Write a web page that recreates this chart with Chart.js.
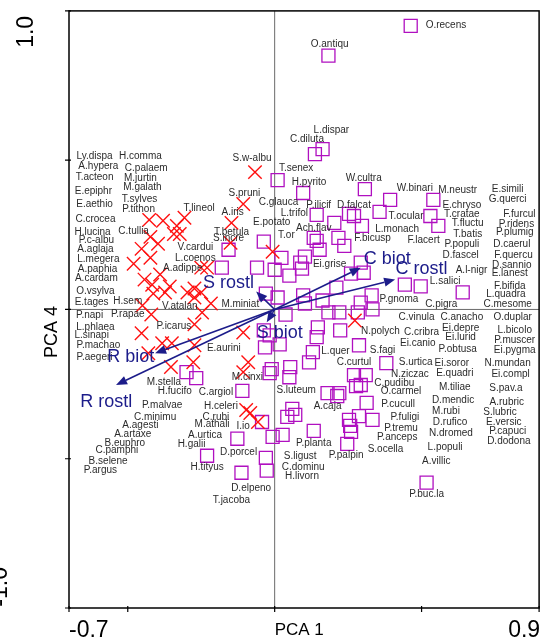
<!DOCTYPE html>
<html>
<head>
<meta charset="utf-8">
<script src="https://cdn.jsdelivr.net/npm/chart.js@4/dist/chart.umd.min.js"></script>
<style>
  html, body { margin: 0; padding: 0; background: #fff; }
  #grafica { display: block; }
</style>
</head>
<body>
<canvas id="grafica" width="550" height="644"></canvas>
<script>
// Ejes
const ejeX = [-0.7, -0.5, 0, 0.5, 0.9];
const ejeY = [-1, -0.5, 0, 0.5, 1];
const etiquetasX = ['-0.7', '0.9'];
const etiquetasY = ['1.0', '-1.0'];

// Especies (solo texto)
const especies = ['Ly.dispa','H.comma','A.hypera','C.palaem','T.acteon','M.jurtin','E.epiphr','M.galath','E.aethio','T.sylves',
  'P.tithon','T.lineol','C.crocea','H.lucina','C.tullia','P.c-albu','A.aglaja','L.megera','A.paphia','A.cardam',
  'O.vsylva','E.tages','H.sem','P.napi','P.rapae','V.atalan','A.adippe','L.coenos','V.cardui','S.w-albu',
  'O.antiqu','L.dispar','C.diluta','O.recens','T.senex','H.pyrito','S.pruni','C.glauca','A.iris','P.ilicif',
  'D.falcat','L.trifol','E.potato','Ach.flav','T.betula','S.incre','T.or','F.bicusp','Ei.grise','M.miniat',
  'W.cultra','W.binari','M.neustr','E.simili','G.querci','E.chryso','T.cratae','F.furcul','T.ocular','T.fluctu',
  'P.ridens','L.monach','T.batis','P.plumig','F.lacert','P.populi','D.caerul','D.fascel','F.quercu','D.sannio',
  'A.l-nigr','E.lanest','L.salici','F.bifida','L.quadra','P.gnoma','C.pigra','C.mesome','C.vinula','C.anacho',
  'O.duplar','N.polych','C.cribra','Ei.depre','L.bicolo','Ei.lurid','P.muscer','Ei.canio','S.fagi','P.obtusa',
  'Ei.pygma','C.curtul','S.urtica','Ei.soror','N.mundan','N.ziczac','E.quadri','Ei.compl','C.pudibu','O.carmel',
  'M.tiliae','S.pav.a','D.mendic','A.rubric','P.cucull','M.rubi','S.lubric','P.fuligi','D.rufico','E.versic',
  'P.tremu','P.capuci','N.dromed','P.anceps','D.dodona','S.ocella','L.populi','A.villic','P.buc.la','E.aurini',
  'L.quer','M.cinxi','S.luteum','C.argiol','A.caja','H.celeri','C.rubi','M.athali','I.io','A.urtica',
  'P.planta','H.galii','D.porcel','P.palpin','S.ligust','H.tityus','C.dominu','H.livorn','D.elpeno','T.jacoba',
  'L.phlaea','P.icarus','L.sinapi','P.machao','P.aegeri','M.stella','H.fucifo','P.malvae','C.minimu','A.agesti',
  'A.artaxe','B.euphro','C.pamphi','B.selene','P.argus'];
const especieX = [-0.613,-0.457,-0.600,-0.437,-0.613,-0.457,-0.617,-0.450,-0.613,-0.460,
  -0.463,-0.257,-0.610,-0.620,-0.480,-0.607,-0.610,-0.600,-0.603,-0.607,
  -0.610,-0.623,-0.500,-0.630,-0.500,-0.323,-0.313,-0.270,-0.270,-0.077,
  0.187,0.193,0.110,0.583,0.073,0.117,-0.103,0.013,-0.143,0.150,
  0.270,0.067,-0.010,0.133,-0.147,-0.157,0.040,0.333,0.187,-0.117,
  0.303,0.477,0.623,0.793,0.793,0.637,0.637,0.833,0.447,0.657,
  0.823,0.417,0.657,0.817,0.507,0.637,0.807,0.633,0.813,0.807,
  0.670,0.800,0.580,0.800,0.787,0.423,0.567,0.793,0.483,0.637,
  0.810,0.360,0.500,0.633,0.817,0.633,0.817,0.487,0.367,0.623,
  0.817,0.270,0.480,0.603,0.793,0.460,0.613,0.803,0.407,0.430,
  0.613,0.787,0.607,0.790,0.420,0.583,0.767,0.443,0.597,0.780,
  0.430,0.793,0.600,0.417,0.797,0.377,0.580,0.550,0.517,-0.173,
  0.207,-0.093,0.073,-0.200,0.180,-0.183,-0.200,-0.213,-0.107,-0.237,
  0.133,-0.283,-0.123,0.243,0.087,-0.230,0.097,0.093,-0.080,-0.147,
  -0.610,-0.343,-0.623,-0.600,-0.613,-0.377,-0.340,-0.383,-0.407,-0.457,
  -0.483,-0.510,-0.537,-0.567,-0.593];
const especieY = [0.513,0.513,0.480,0.473,0.443,0.440,0.397,0.410,0.353,0.370,
  0.337,0.340,0.303,0.260,0.263,0.233,0.203,0.167,0.133,0.103,
  0.060,0.023,0.027,-0.020,-0.017,0.010,0.137,0.173,0.210,0.507,
  0.887,0.600,0.570,0.953,0.473,0.427,0.390,0.360,0.327,0.350,
  0.350,0.323,0.293,0.273,0.260,0.237,0.247,0.240,0.153,0.017,
  0.440,0.407,0.400,0.403,0.370,0.350,0.320,0.320,0.313,0.290,
  0.287,0.270,0.253,0.257,0.233,0.220,0.220,0.183,0.180,0.147,
  0.130,0.120,0.093,0.077,0.050,0.033,0.017,0.017,-0.027,-0.027,
  -0.027,-0.073,-0.077,-0.063,-0.070,-0.093,-0.103,-0.113,-0.137,-0.133,
  -0.137,-0.177,-0.177,-0.180,-0.180,-0.217,-0.213,-0.217,-0.247,-0.273,
  -0.260,-0.263,-0.303,-0.310,-0.317,-0.340,-0.343,-0.360,-0.377,-0.377,
  -0.397,-0.407,-0.413,-0.427,-0.443,-0.467,-0.463,-0.510,-0.620,-0.130,
  -0.140,-0.227,-0.270,-0.277,-0.323,-0.323,-0.360,-0.383,-0.390,-0.423,
  -0.447,-0.453,-0.477,-0.490,-0.493,-0.527,-0.530,-0.560,-0.600,-0.640,
  -0.060,-0.057,-0.087,-0.120,-0.160,-0.243,-0.273,-0.320,-0.360,-0.387,
  -0.417,-0.447,-0.473,-0.507,-0.540];

// Sitios (cruces rojas)
const cruzX = [-0.067,-0.107,-0.147,-0.150,-0.007,-0.307,-0.323,-0.230,-0.250,-0.273,
  -0.250,-0.297,-0.217,-0.247,-0.273,-0.427,-0.380,-0.333,-0.423,-0.397,
  -0.453,-0.423,-0.480,-0.390,-0.443,-0.417,-0.357,-0.373,-0.413,-0.450,
  -0.420,-0.343,-0.453,-0.383,-0.350,-0.430,-0.353,-0.273,-0.107,-0.273,
  -0.277,-0.090,-0.107,-0.097,-0.083,-0.057,0.273];
const cruzY = [0.460,0.353,0.290,0.223,0.193,0.307,0.253,0.140,0.140,0.070,
  0.057,0.057,0.020,-0.010,0.040,0.300,0.297,0.280,0.243,0.220,
  0.203,0.173,0.153,0.117,0.100,0.083,0.077,0.057,0.053,0.013,
  -0.017,0.253,-0.080,-0.113,-0.113,-0.147,-0.193,-0.050,-0.077,-0.120,
  -0.177,-0.177,-0.210,-0.337,-0.347,-0.377,-0.037];

// Sitios (cuadros morados)
const cuadroX = [0.183,0.163,0.137,0.463,0.010,0.097,0.143,0.203,0.253,0.270,
  0.133,0.143,0.217,0.237,0.153,-0.037,-0.157,-0.180,-0.060,0.000,
  0.023,0.103,0.087,0.050,0.093,0.210,0.260,-0.030,0.010,0.097,
  0.103,0.163,0.183,0.220,0.037,0.283,0.307,0.393,0.357,0.297,
  0.540,0.530,0.557,0.293,0.303,0.443,0.497,0.640,0.330,0.293,
  0.333,-0.037,-0.033,0.017,-0.017,0.147,0.143,0.223,0.130,0.117,
  -0.300,-0.267,-0.010,-0.017,0.053,0.050,-0.110,0.180,0.220,0.213,
  0.270,0.277,0.060,0.043,0.070,-0.043,0.027,-0.007,0.133,-0.127,
  0.253,0.257,0.260,0.247,-0.230,-0.030,-0.027,-0.113,0.287,0.380,
  0.310,0.293,0.313,0.333,0.287,0.517];
const cuadroY = [0.850,0.537,0.520,0.950,0.433,0.390,0.317,0.290,0.320,0.313,
  0.240,0.230,0.240,0.213,0.200,0.227,0.200,0.140,0.140,0.133,
  0.173,0.177,0.157,0.113,0.137,0.073,0.120,0.053,0.040,0.047,
  0.020,0.030,-0.010,-0.010,-0.017,-0.010,0.403,0.367,0.327,0.280,
  0.367,0.313,0.280,0.157,0.123,0.083,0.077,0.057,0.047,0.023,
  0.000,-0.070,-0.127,-0.117,-0.087,-0.060,-0.093,-0.070,-0.143,-0.177,
  -0.210,-0.230,-0.200,-0.213,-0.193,-0.227,-0.273,-0.280,-0.280,-0.290,
  -0.220,-0.257,-0.333,-0.360,-0.353,-0.377,-0.420,-0.427,-0.407,-0.433,
  -0.370,-0.390,-0.410,-0.450,-0.490,-0.497,-0.540,-0.547,-0.120,-0.180,
  -0.220,-0.253,-0.313,-0.370,-0.357,-0.580];

// Variables ambientales (flechas)
const flechas = ['C biot', 'C rostl', 'S rostl', 'S biot', 'R biot', 'R rostl'];
const flechaX = [0.293, 0.410, -0.063, -0.027, -0.407, -0.540];
const flechaY = [0.140, 0.100, 0.060, -0.043, -0.147, -0.253];
const textoFlechaX = [0.383, 0.500, -0.157, 0.017, -0.490, -0.573];
const textoFlechaY = [0.170, 0.137, 0.087, -0.080, -0.160, -0.310];

const fuente = "'Liberation Sans', Arial, sans-serif";
const azul = '#1c1c8a';

function puntos(xs, ys) {
  return xs.map((v, i) => ({ x: v, y: ys[i] }));
}

const biplot = {
  id: 'biplot',
  beforeDatasetsDraw(chart) {
    const { ctx, chartArea: a, scales: { x, y } } = chart;
    const x0 = x.getPixelForValue(0);
    const y0 = y.getPixelForValue(0);
    ctx.save();
    ctx.strokeStyle = '#6a6a6a';
    ctx.lineWidth = 1;
    ctx.beginPath();
    ctx.moveTo(x0, a.top); ctx.lineTo(x0, a.bottom);
    ctx.moveTo(a.left, y0); ctx.lineTo(a.right, y0);
    ctx.stroke();
    ctx.restore();
  },
  afterDatasetsDraw(chart) {
    const { ctx, chartArea: a, scales: { x, y } } = chart;
    ctx.save();

    // nombres de especies
    const meta = chart.getDatasetMeta(2);
    ctx.fillStyle = '#2b2b2b';
    ctx.font = '10px ' + fuente;
    ctx.textAlign = 'center';
    ctx.textBaseline = 'middle';
    meta.data.forEach((p, i) => ctx.fillText(especies[i], p.x, p.y));

    // flechas
    const x0 = x.getPixelForValue(0);
    const y0 = y.getPixelForValue(0);
    ctx.strokeStyle = azul;
    ctx.fillStyle = azul;
    ctx.lineWidth = 1.6;
    flechas.forEach((nombre, i) => {
      const px = x.getPixelForValue(flechaX[i]);
      const py = y.getPixelForValue(flechaY[i]);
      const ang = Math.atan2(py - y0, px - x0);
      const largo = 11, ancho = 4.5;
      const bx = px - largo * Math.cos(ang), by = py - largo * Math.sin(ang);
      ctx.beginPath();
      ctx.moveTo(x0, y0); ctx.lineTo(bx, by);
      ctx.stroke();
      ctx.beginPath();
      ctx.moveTo(px, py);
      ctx.lineTo(bx + ancho * Math.sin(ang), by - ancho * Math.cos(ang));
      ctx.lineTo(bx - ancho * Math.sin(ang), by + ancho * Math.cos(ang));
      ctx.closePath();
      ctx.fill();
    });
    ctx.font = '18px ' + fuente;
    flechas.forEach((nombre, i) => {
      ctx.fillText(nombre, x.getPixelForValue(textoFlechaX[i]), y.getPixelForValue(textoFlechaY[i]));
    });
    ctx.restore();
  },
  afterDraw(chart) {
    const { ctx, chartArea: a, scales: { x, y } } = chart;
    ctx.save();
    // marco
    ctx.strokeStyle = '#000';
    ctx.lineWidth = 1.5;
    ctx.strokeRect(a.left, a.top, a.right - a.left, a.bottom - a.top);
    // marcas
    ctx.lineWidth = 1.2;
    ctx.beginPath();
    ejeX.forEach(v => {
      const px = x.getPixelForValue(v);
      ctx.moveTo(px, a.bottom - 2); ctx.lineTo(px, a.bottom + 4);
    });
    ejeY.forEach(v => {
      const py = y.getPixelForValue(v);
      ctx.moveTo(a.left - 4, py); ctx.lineTo(a.left + 2, py);
    });
    ctx.stroke();

    // textos de ejes
    ctx.fillStyle = '#000';
    ctx.textBaseline = 'alphabetic';
    ctx.font = '23px ' + fuente;
    ctx.textAlign = 'left';
    ctx.fillText(etiquetasX[0], x.getPixelForValue(ejeX[0]), 637);
    ctx.textAlign = 'right';
    ctx.fillText(etiquetasX[1], x.getPixelForValue(ejeX[ejeX.length - 1]) + 1, 637);
    ctx.font = '17px ' + fuente;
    ctx.textAlign = 'left';
    ctx.fillText('PCA 1', x.getPixelForValue(0), 635);

    ctx.save();
    ctx.translate(33, y.getPixelForValue(1) + 5);
    ctx.rotate(-Math.PI / 2);
    ctx.font = '23px ' + fuente;
    ctx.textAlign = 'right';
    ctx.fillText(etiquetasY[0], 0, 0);
    ctx.restore();

    ctx.save();
    ctx.translate(7, 567);
    ctx.rotate(-Math.PI / 2);
    ctx.font = '23px ' + fuente;
    ctx.textAlign = 'right';
    ctx.fillText(etiquetasY[1], 0, 0);
    ctx.restore();

    ctx.save();
    ctx.translate(57, 358);
    ctx.rotate(-Math.PI / 2);
    ctx.font = '18px ' + fuente;
    ctx.textAlign = 'left';
    ctx.fillText('PCA 4', 0, 0);
    ctx.restore();

    ctx.restore();
  }
};

new Chart(document.getElementById('grafica'), {
  type: 'scatter',
  data: {
    datasets: [
      {
        data: puntos(cruzX, cruzY),
        pointStyle: 'crossRot',
        pointRadius: 9.5,
        borderColor: '#ff1010',
        borderWidth: 1.4
      },
      {
        data: puntos(cuadroX, cuadroY),
        pointStyle: 'rect',
        pointRadius: 9.2,
        borderColor: '#b010c0',
        backgroundColor: 'rgba(0,0,0,0)',
        borderWidth: 1.3
      },
      {
        data: puntos(especieX, especieY),
        pointRadius: 0
      }
    ]
  },
  options: {
    responsive: false,
    animation: false,
    layout: { padding: { left: 69, right: 1, top: 10, bottom: 36 } },
    plugins: { legend: { display: false }, tooltip: { enabled: false } },
    scales: {
      x: { type: 'linear', min: -0.7, max: 0.9, display: false },
      y: { type: 'linear', min: -1, max: 1, display: false }
    }
  },
  plugins: [biplot]
});
</script>
</body>
</html>
